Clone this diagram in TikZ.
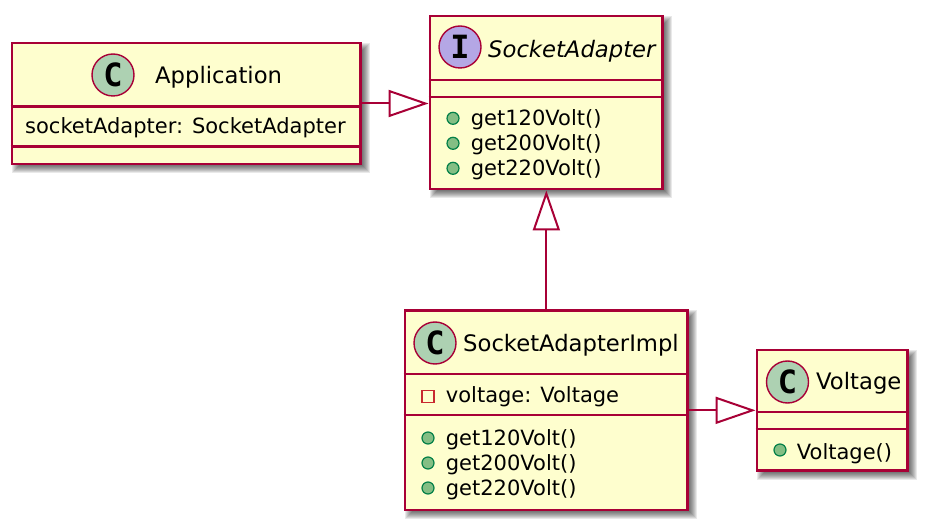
\documentclass[tikz,border=0pt]{standalone}
\usepackage{fontspec}
\setmainfont{DejaVu Sans}
\newfontfamily\iconfont{DejaVu Sans Mono}
\usetikzlibrary{arrows.meta}
\usetikzlibrary{backgrounds}

\definecolor{umlborder}{HTML}{A80036}
\definecolor{umlfill}{HTML}{FEFECE}
\definecolor{iconC}{HTML}{ADD1B2}
\definecolor{iconI}{HTML}{B4A7E5}
\definecolor{pubfill}{HTML}{84BE84}
\definecolor{pubdraw}{HTML}{038048}
\definecolor{privdraw}{HTML}{C82930}

\tikzset{
  classbox/.style={draw=umlborder, fill=umlfill, line width=2.9pt, inner sep=0pt},
  sepline/.style={draw=umlborder, line width=2.9pt},
  classicon/.style={circle, draw=umlborder, fill=iconC, line width=1.4pt, minimum size=42pt, inner sep=0pt,
    font=\iconfont\bfseries\fontsize{32}{32}\selectfont},
  ifaceicon/.style={classicon, fill=iconI},
  classtitle/.style={anchor=base west, inner sep=0pt, font=\fontsize{22.7}{27}\selectfont},
  member/.style={anchor=base west, inner sep=0pt, font=\fontsize{21}{25}\selectfont},
  pubdot/.style={circle, draw=pubdraw, fill=pubfill, line width=1.2pt, minimum size=12pt, inner sep=0pt},
  privbox/.style={rectangle, draw=privdraw, line width=1.4pt, minimum size=12pt, inner sep=0pt},
  realize/.style={draw=umlborder, line width=2pt, -{Triangle[length=40pt, width=27pt, fill=white]}}
}

\begin{document}
\begin{tikzpicture}[x=1pt, y=-1pt]
  \node[classbox, minimum width=348.5pt, minimum height=121pt] (app) at (186.25,103.5) {};
  \node[classbox, minimum width=232.7pt, minimum height=173pt] (adapter) at (546.35,102.5) {};
  \node[classbox, minimum width=282.7pt, minimum height=199.3pt] (impl) at (546.35,410.35) {};
  \node[classbox, minimum width=150.7pt, minimum height=120.7pt] (volt) at (832.35,410.35) {};

  \begin{scope}[on background layer]
    \fill[white] (0,0) rectangle (927,529);
    \foreach \b in {app,adapter,impl,volt}
      \foreach \k in {0,...,7}
        \fill[black, opacity=0.085]
          ([xshift={(8-\k)*1pt}, yshift={(\k-8)*1pt}]\b.north west) rectangle
          ([xshift={(1+\k)*1pt}, yshift={-(1+\k)*1pt}]\b.south east);
  \end{scope}

  % Application
  \draw[sepline] (app.west |- 0,106.7) -- (app.east |- 0,106.7);
  \draw[sepline] (app.west |- 0,146.7) -- (app.east |- 0,146.7);
  \node[classicon] (appicon) at (113,75) {C};
  \node[classtitle] (apptitle) at (155,83.3) {Application};
  \node[member] (appfield) at (25,134) {socketAdapter: SocketAdapter};

  % SocketAdapter
  \draw[sepline] (adapter.west |- 0,80) -- (adapter.east |- 0,80);
  \draw[sepline] (adapter.west |- 0,97) -- (adapter.east |- 0,97);
  \node[ifaceicon] (adaptericon) at (460,47) {I};
  \node[classtitle, font=\fontsize{22.7}{27}\selectfont\itshape] (adaptertitle) at (488,57.3) {SocketAdapter};
  \node[pubdot] (adot1) at (453,118.3) {};
  \node[pubdot] (adot2) at (453,143.3) {};
  \node[pubdot] (adot3) at (453,168.3) {};
  \node[member] (aget120) at (470.7,126) {get120Volt()};
  \node[member] (aget200) at (470.7,151) {get200Volt()};
  \node[member] (aget220) at (470.7,176) {get220Volt()};

  % SocketAdapterImpl
  \draw[sepline] (impl.west |- 0,374) -- (impl.east |- 0,374);
  \draw[sepline] (impl.west |- 0,415) -- (impl.east |- 0,415);
  \node[classicon] (implicon) at (435,343) {C};
  \node[classtitle] (impltitle) at (463,351.7) {SocketAdapterImpl};
  \node[privbox] (ibox) at (428,396.7) {};
  \node[member] (ifield) at (445.7,402.7) {voltage: Voltage};
  \node[pubdot] (idot1) at (428,438) {};
  \node[pubdot] (idot2) at (428,463) {};
  \node[pubdot] (idot3) at (428,488) {};
  \node[member] (iget120) at (445.7,445.3) {get120Volt()};
  \node[member] (iget200) at (445.7,470.3) {get200Volt()};
  \node[member] (iget220) at (445.7,495.3) {get220Volt()};

  % Voltage
  \draw[sepline] (volt.west |- 0,412) -- (volt.east |- 0,412);
  \draw[sepline] (volt.west |- 0,429) -- (volt.east |- 0,429);
  \node[classicon] (volticon) at (787.5,382) {C};
  \node[classtitle] (volttitle) at (816,389.3) {Voltage};
  \node[pubdot] (vdot) at (780,450) {};
  \node[member] (vctor) at (796.7,459.3) {Voltage()};

  \draw[realize] (app.east) -- (app.east -| adapter.west);
  \draw[realize] (impl.north) -- (adapter.south);
  \draw[realize] (impl.east |- volt.west) -- (volt.west);
\end{tikzpicture}
\end{document}
